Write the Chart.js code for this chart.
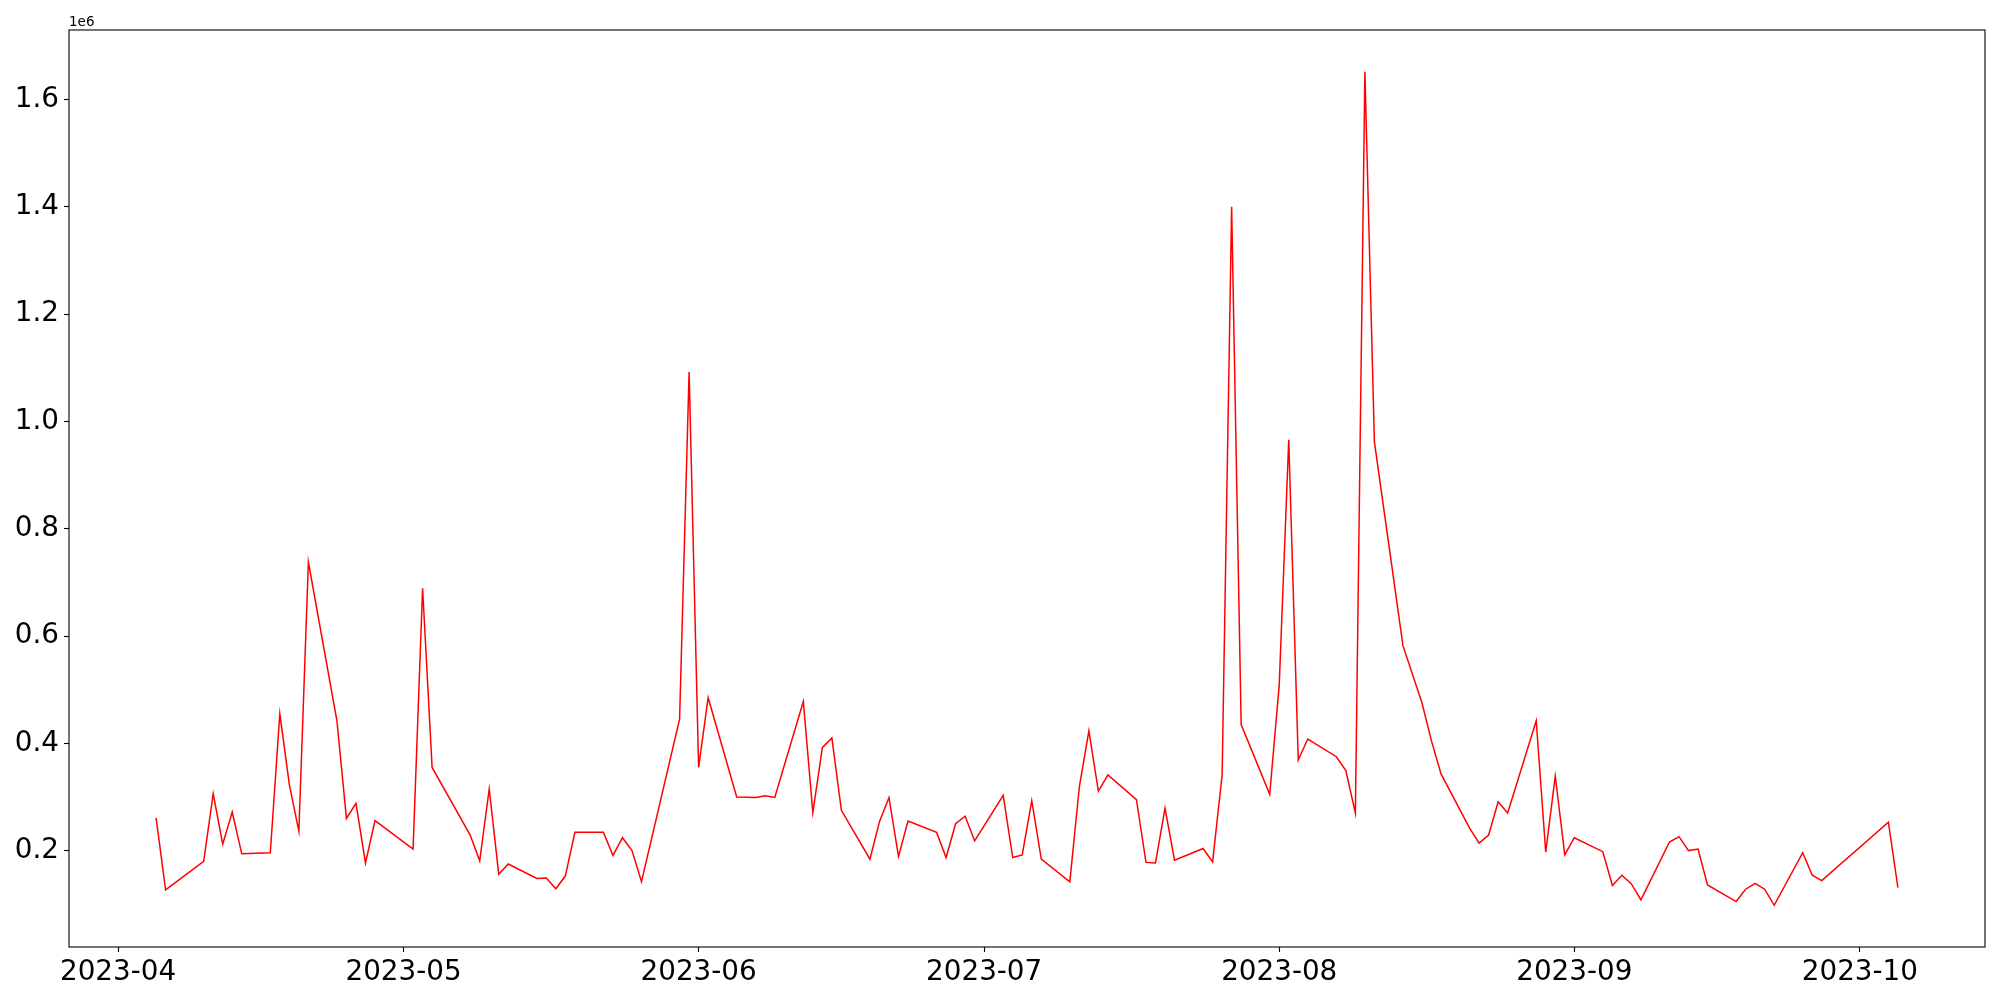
<!DOCTYPE html>
<html><head><meta charset="utf-8">
<script src="https://cdn.jsdelivr.net/npm/chart.js@4.4.0/dist/chart.umd.min.js"></script>
<style>html,body{margin:0;padding:0;background:#fff;} #c{display:block;}</style>
</head><body>
<canvas id="c" width="2000" height="1000"></canvas>
<script>
const dates = [
 '2023-04-05','2023-04-06','2023-04-10','2023-04-11','2023-04-12','2023-04-13','2023-04-14',
 '2023-04-17','2023-04-18','2023-04-19','2023-04-20','2023-04-21','2023-04-24','2023-04-25',
 '2023-04-26','2023-04-27','2023-04-28','2023-05-02','2023-05-03','2023-05-04','2023-05-08',
 '2023-05-09','2023-05-10','2023-05-11','2023-05-12','2023-05-15','2023-05-16','2023-05-17',
 '2023-05-18','2023-05-19','2023-05-22','2023-05-23','2023-05-24','2023-05-25','2023-05-26',
 '2023-05-30','2023-05-31','2023-06-01','2023-06-02','2023-06-05','2023-06-07','2023-06-08',
 '2023-06-09','2023-06-12','2023-06-13','2023-06-14','2023-06-15','2023-06-16','2023-06-19',
 '2023-06-20','2023-06-21','2023-06-22','2023-06-23','2023-06-26','2023-06-27','2023-06-28',
 '2023-06-29','2023-06-30','2023-07-03','2023-07-04','2023-07-05','2023-07-06','2023-07-07',
 '2023-07-10','2023-07-11','2023-07-12','2023-07-13','2023-07-14','2023-07-17','2023-07-18',
 '2023-07-19','2023-07-20','2023-07-21','2023-07-24','2023-07-25','2023-07-26','2023-07-27',
 '2023-07-28','2023-07-31','2023-08-01','2023-08-02','2023-08-03','2023-08-04','2023-08-07',
 '2023-08-08','2023-08-09','2023-08-10','2023-08-11','2023-08-14','2023-08-16','2023-08-17',
 '2023-08-18','2023-08-21','2023-08-22','2023-08-23','2023-08-24','2023-08-25','2023-08-28',
 '2023-08-29','2023-08-30','2023-08-31','2023-09-01','2023-09-04','2023-09-05','2023-09-06',
 '2023-09-07','2023-09-08','2023-09-11','2023-09-12','2023-09-13','2023-09-14','2023-09-15',
 '2023-09-18','2023-09-19','2023-09-20','2023-09-21','2023-09-22','2023-09-25','2023-09-26',
 '2023-09-27','2023-10-04','2023-10-05'
];
const values = [
 261000,127000,180000,306000,212000,272000,194000,
 196000,455000,323000,236000,738000,442000,260000,
 288000,177000,256000,203000,689000,355000,229000,
 181000,315000,156000,175000,148000,149000,129000,
 153000,234000,234000,191000,224000,200000,142000,
 445000,1092000,355000,485000,300000,299000,302000,
 299000,478000,271000,392000,410000,275000,184000,
 254000,299000,189000,255000,234000,187000,250000,
 264000,218000,303000,187000,192000,293000,184000,
 142000,319000,423000,311000,341000,295000,178000,
 177000,279000,182000,204000,179000,341000,1400000,
 435000,305000,509000,966000,369000,408000,375000,
 349000,270000,1652000,962000,582000,475000,404000,
 343000,242000,214000,229000,291000,270000,442000,
 197000,339000,192000,224000,198000,135000,154000,
 138000,108000,216000,226000,200000,203000,136000,
 105000,128000,139000,128000,98000,196000,154000,
 144000,253000,131000
];
const yTickValues = [200000,400000,600000,800000,1000000,1200000,1400000,1600000];
const xTickLabels = ['2023-04','2023-05','2023-06','2023-07','2023-08','2023-09','2023-10'];
const offsetLabel = '1e6';

const DAY = 86400000;
const toDay = s => Date.UTC(+s.slice(0,4), +s.slice(5,7)-1, +(s.slice(8,10)||'01')) / DAY;
const pts = dates.map((d,i) => ({x: toDay(d), y: values[i]}));
const xs = pts.map(p=>p.x), ys = values;
const xMin0 = Math.min(...xs), xMax0 = Math.max(...xs);
const yMin0 = Math.min(...ys), yMax0 = Math.max(...ys);
const xPad = 0.05*(xMax0-xMin0), yPad = 0.05*(yMax0-yMin0);
const xTickVals = xTickLabels.map(l => toDay(l + '-01'));
const FONT = '"DejaVu Sans", sans-serif';

const framePlugin = {
  id: 'frame',
  afterDraw(chart) {
    const {ctx, chartArea: a} = chart;
    ctx.save();
    ctx.strokeStyle = '#000'; ctx.lineWidth = 1.1;
    ctx.strokeRect(a.left, a.top, a.right - a.left, a.bottom - a.top);
    ctx.fillStyle = '#000';
    ctx.font = '13.5px ' + FONT;
    ctx.textAlign = 'left'; ctx.textBaseline = 'alphabetic';
    ctx.fillText(offsetLabel, a.left, a.top - 4.5);
    ctx.restore();
  }
};

new Chart(document.getElementById('c'), {
  type: 'line',
  data: { datasets: [{
    data: pts, borderColor: '#ff0000', borderWidth: 1.5, pointRadius: 0,
    tension: 0, fill: false
  }]},
  options: {
    responsive: false, animation: false, devicePixelRatio: 1,
    layout: { padding: { top: 30, right: 15, left: 0, bottom: 0 } },
    plugins: { legend: { display: false }, tooltip: { enabled: false } },
    scales: {
      x: {
        type: 'linear', min: xMin0 - xPad, max: xMax0 + xPad,
        afterBuildTicks: s => { s.ticks = xTickVals.map(v => ({value: v})); },
        afterFit: s => { s.height = 53; },
        border: { display: false },
        grid: { drawOnChartArea: false, drawTicks: true, tickLength: 5, color: '#000', tickColor: '#000', tickWidth: 1.1 },
        ticks: {
          autoSkip: false, maxRotation: 0, minRotation: 0, padding: 4, color: '#000',
          font: { family: FONT, size: 27.8 },
          callback: (v) => { const i = xTickVals.indexOf(v); return i >= 0 ? xTickLabels[i] : ''; }
        }
      },
      y: {
        type: 'linear', min: yMin0 - yPad, max: yMax0 + yPad,
        afterBuildTicks: s => { s.ticks = yTickValues.map(v => ({value: v})); },
        afterFit: s => { s.width = 69; },
        border: { display: false },
        grid: { drawOnChartArea: false, drawTicks: true, tickLength: 5, color: '#000', tickColor: '#000', tickWidth: 1.1 },
        ticks: {
          padding: 5, color: '#000',
          font: { family: FONT, size: 27.8 },
          callback: (v) => (v / 1e6).toFixed(1)
        }
      }
    }
  },
  plugins: [framePlugin]
});
</script>
</body></html>
